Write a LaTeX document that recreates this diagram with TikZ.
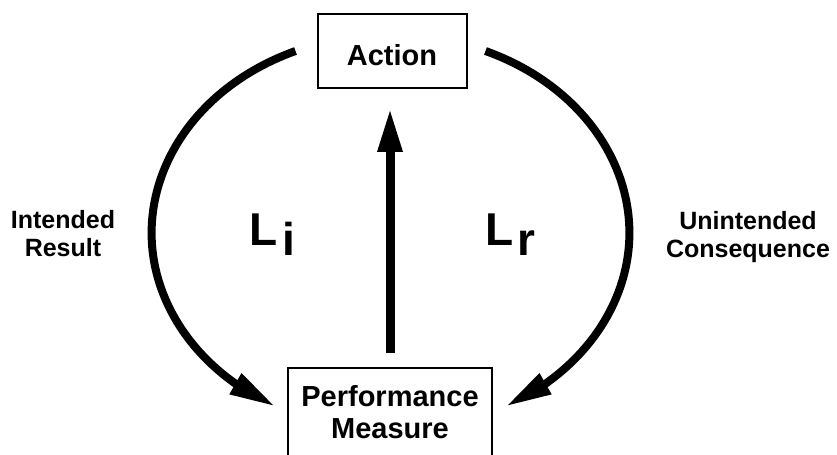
\documentclass[tikz,border=0pt]{standalone}
\usepackage{fontspec}
\setmainfont{Liberation Sans}
\usetikzlibrary{arrows.meta,bending}

\begin{document}
\begin{tikzpicture}[x=0.5pt, y=0.5pt,
    box/.style={draw=black, line width=1pt, font=\fontsize{14.5}{16}\selectfont\bfseries, align=center},
    side/.style={font=\fontsize{12.5}{14}\selectfont\bfseries, align=center},
    loopname/.style={font=\fontsize{23}{23}\selectfont\bfseries, inner sep=0pt},
    looparrow/.style={line width=4pt, -{Triangle[length=23pt, width=11pt]}},
    mainarrow/.style={line width=4.5pt, -{Triangle[length=22pt, width=11.5pt]}}]
  \useasboundingbox (0,0) rectangle (837,455);
  \node[box, minimum width=74.5pt, minimum height=37pt, text height=15pt, text depth=0pt] (act) at (392,404) {Action};
  \node[box, anchor=north, minimum width=102pt, inner ysep=8.5pt, text depth=14pt] (perf) at (390,88) {Performance\\Measure};
  \draw[mainarrow, shorten <=7pt, shorten >=9.5pt] (perf.north) -- (perf.north |- act.south);
  \draw[looparrow] ([xshift=-10.5pt]act.west) arc[start angle=113.3, end angle=241.3, x radius=238, y radius=198];
  \draw[looparrow] ([xshift=9pt]act.east) arc[start angle=66.7, end angle=-61.3, x radius=238, y radius=198];
  \node[side] (intended) at (63,221) {Intended\\Result};
  \node[side] (unintended) at (748,218) {Unintended\\Consequence};
  \node[loopname] (li) at (272,220) {L\kern2.5pt\raisebox{-5pt}{i}};
  \node[loopname] (lr) at (510,220) {L\kern2pt\raisebox{-5pt}{r}};
\end{tikzpicture}
\end{document}
